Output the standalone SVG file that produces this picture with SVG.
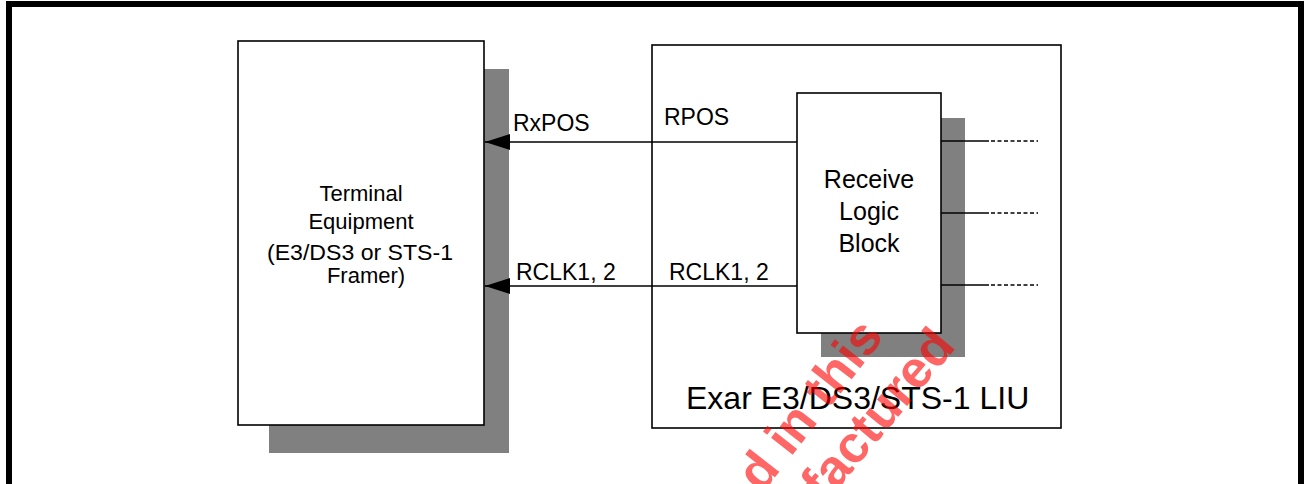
<svg xmlns="http://www.w3.org/2000/svg" width="1304" height="484" viewBox="0 0 1304 484">
<style>
.box{fill:#fff;stroke:#000;stroke-width:1.6}
.shadow{fill:#808080}
.ln{stroke:#000;stroke-width:1.4;fill:none}
.dash{stroke:#000;stroke-width:1.4;fill:none;stroke-dasharray:4 2.5}
.t{font-family:"Liberation Sans",Arial,sans-serif;fill:#000}
.wm{font-family:"Liberation Sans",Arial,sans-serif;font-weight:bold;fill:#ff0000;fill-opacity:0.6}
</style>
<defs>
<marker id="arr" viewBox="0 0 25 16" refX="25" refY="8" markerWidth="25" markerHeight="16" markerUnits="userSpaceOnUse" orient="auto">
<path d="M25,8 L0,0 L0,16 Z" fill="#000"/>
</marker>
</defs>
<rect x="0" y="0" width="1304" height="484" fill="#fff"/>
<rect x="9" y="4" width="1292" height="483" fill="none" stroke="#000" stroke-width="6"/>
<g id="terminal">
<rect class="shadow" x="269" y="69" width="240" height="384"/>
<rect class="box" x="238" y="41" width="246" height="384"/>
<text class="t" font-size="22" text-anchor="middle" x="361" y="201">Terminal</text>
<text class="t" font-size="22" text-anchor="middle" x="361" y="229">Equipment</text>
<text class="t" font-size="22" text-anchor="middle" x="360" y="260" textLength="186" lengthAdjust="spacingAndGlyphs">(E3/DS3 or STS-1</text>
<text class="t" font-size="22" text-anchor="middle" x="366" y="283">Framer)</text>
</g>
<g id="liu">
<rect class="box" x="652" y="45" width="409" height="383"/>
<text class="t" font-size="32" x="686" y="409">Exar E3/DS3/STS-1 LIU</text>
</g>
<g id="receive">
<rect class="shadow" x="821" y="118" width="144" height="239"/>
<rect class="box" x="797" y="93" width="144" height="240"/>
<text class="t" font-size="25" text-anchor="middle" x="869" y="188">Receive</text>
<text class="t" font-size="25" text-anchor="middle" x="869" y="220">Logic</text>
<text class="t" font-size="25" text-anchor="middle" x="869" y="252">Block</text>
</g>
<g id="connectors">
<line class="ln" x1="797" y1="142" x2="485" y2="142" marker-end="url(#arr)"/>
<line class="ln" x1="797" y1="286" x2="485" y2="286" marker-end="url(#arr)"/>
<line class="ln" x1="941" y1="141" x2="989" y2="141"/>
<line class="ln" x1="941" y1="213" x2="989" y2="213"/>
<line class="ln" x1="941" y1="285" x2="989" y2="285"/>
<line class="dash" x1="991" y1="141" x2="1038" y2="141"/>
<line class="dash" x1="991" y1="213" x2="1038" y2="213"/>
<line class="dash" x1="991" y1="285" x2="1038" y2="285"/>
<text class="t" font-size="23" x="513" y="131">RxPOS</text>
<text class="t" font-size="23" x="664" y="125">RPOS</text>
<text class="t" font-size="23" x="516" y="280">RCLK1, 2</text>
<text class="t" font-size="23" x="669" y="280">RCLK1, 2</text>
</g>
<g id="watermark">
<text class="wm" font-size="52" transform="translate(762,494) rotate(-52)">d in this</text>
<text class="wm" font-size="52" transform="translate(825,504) rotate(-50)">factured</text>
</g>
</svg>
